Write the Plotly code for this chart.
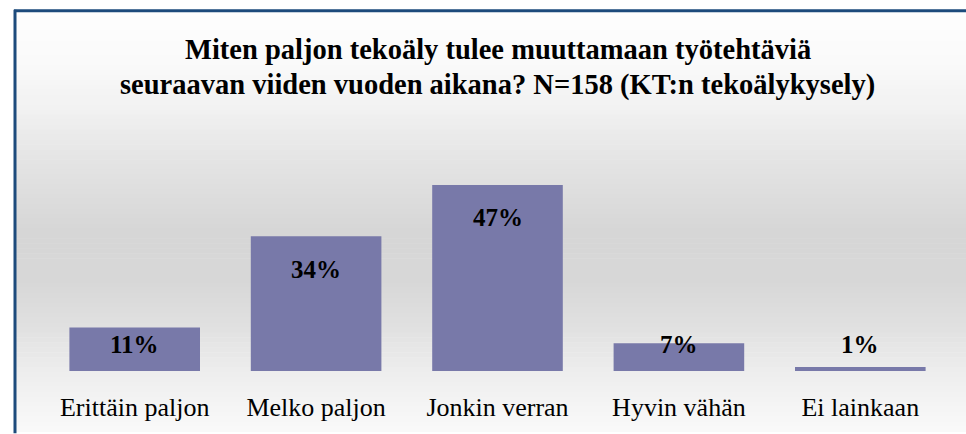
import plotly.graph_objects as go

categories = ["Erittäin paljon", "Melko paljon", "Jonkin verran", "Hyvin vähän", "Ei lainkaan"]
values = [11, 34, 47, 7, 1]
value_labels = ["11%", "34%", "47%", "7%", "1%"]
title_lines = ["Miten paljon tekoäly tulee muuttamaan työtehtäviä",
               "seuraavan viiden vuoden aikana? N=158 (KT:n tekoälykysely)"]

W, H = 966, 434
ML, MR, MT, MB = 44, 15, 173, 61
PW, PH = W - ML - MR, H - MT - MB
SERIF = "Liberation Serif"


def px(x):
    return (x - ML) / PW


def py(y):
    return (H - MB - y) / PH


# background gradient stops (pixel y, grey level)
stops = [(9, 254), (60, 250), (110, 241), (160, 228), (230, 214), (280, 215),
         (330, 225), (380, 239), (434, 250)]


def grey_at(y):
    for (y0, g0), (y1, g1) in zip(stops, stops[1:]):
        if y0 <= y <= y1:
            t = (y - y0) / (y1 - y0)
            return g0 + (g1 - g0) * t
    return stops[-1][1]


shapes = []
step = 5
y = 9
while y < H:
    g = int(round(grey_at(y + step / 2)))
    shapes.append(dict(type="rect", xref="paper", yref="paper", layer="below",
                       x0=px(16), x1=px(W + 2), y0=py(y + step + 0.5), y1=py(y),
                       fillcolor=f"rgb({g},{g},{g})", line=dict(width=0)))
    y += step

# frame lines (left and top)
shapes.append(dict(type="line", xref="paper", yref="paper", layer="above",
                   x0=px(15), x1=px(15), y0=py(8), y1=py(H + 2),
                   line=dict(color="#1d4b7c", width=3)))
shapes.append(dict(type="line", xref="paper", yref="paper", layer="above",
                   x0=px(14), x1=px(W + 2), y0=py(9), y1=py(9),
                   line=dict(color="#1d4b7c", width=3)))

fig = go.Figure()
fig.add_trace(go.Bar(
    x=categories, y=values,
    marker=dict(color="#7879a9", line=dict(width=0)),
    hoverinfo="skip",
))

annotations = []
for c, v, lab in zip(categories, values, value_labels):
    annotations.append(dict(x=c, y=max(v - 8.3, 6.8), xref="x", yref="y",
                            text=f"<b>{lab}</b>", showarrow=False,
                            font=dict(family=SERIF, size=25, color="#000000"),
                            xanchor="center", yanchor="middle"))

annotations.append(dict(x=0.5, y=py(48), xref="paper", yref="paper",
                        text=f"<b>{title_lines[0]}</b>", showarrow=False,
                        font=dict(family=SERIF, size=28.5, color="#000000"),
                        xanchor="center", yanchor="middle"))
annotations.append(dict(x=0.5, y=py(84), xref="paper", yref="paper",
                        text=f"<b>{title_lines[1]}</b>", showarrow=False,
                        font=dict(family=SERIF, size=28.5, color="#000000"),
                        xanchor="center", yanchor="middle"))

fig.update_layout(
    width=W, height=H,
    margin=dict(l=ML, r=MR, t=MT, b=MB, pad=0),
    paper_bgcolor="#ffffff",
    plot_bgcolor="rgba(0,0,0,0)",
    bargap=0.28,
    showlegend=False,
    shapes=shapes,
    annotations=annotations,
    xaxis=dict(showgrid=False, zeroline=False, showline=False, ticks="",
               ticklabelstandoff=18,
               tickfont=dict(family=SERIF, size=26, color="#000000")),
    yaxis=dict(range=[0, 50], visible=False, showgrid=False, zeroline=False),
)

fig.write_html("out.html", config={"displayModeBar": False},
               post_script="document.body.style.margin='0px';")
